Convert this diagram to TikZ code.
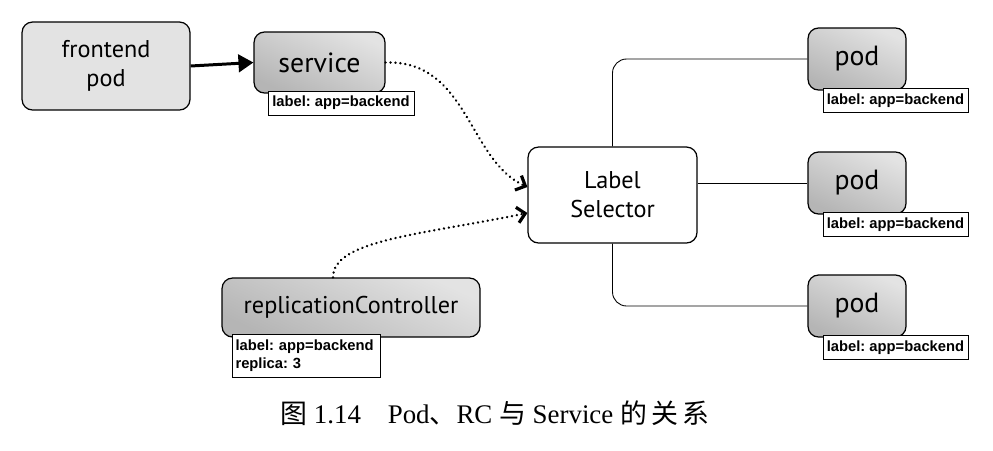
\documentclass[tikz,border=0pt]{standalone}
\usepackage{fontspec}
\setmainfont{Liberation Serif}
\setsansfont{PT Sans}
\newfontfamily\cjk{Noto Sans CJK SC}
\newfontfamily\tagfont{Liberation Sans}
\usetikzlibrary{arrows.meta}
\tikzset{
	box/.style={draw, rounded corners=6pt, line width=0.7pt, inner sep=0pt,
		align=center, font=\sffamily\fontsize{13.8}{16.5}\selectfont},
	lightbox/.style={box, fill=gray!22},
	darkbox/.style={box, top color=gray!22, bottom color=gray!58, shading angle=-25},
	bigtext/.style={font=\sffamily\fontsize{15.8}{17}\selectfont},
	tag/.style={draw, fill=white, line width=0.5pt, inner sep=1.5pt,
		font=\tagfont\bfseries\fontsize{8.4}{10}\selectfont\frenchspacing},
	link/.style={line width=0.5pt, rounded corners=8pt},
	dots/.style={line width=1.5pt, line cap=round, dash pattern=on 0.01pt off 2.8pt,
		-{Straight Barb[length=4.5pt,width=9pt,line width=1.8pt]}}
}
\begin{document}
\begin{tikzpicture}[x=0.02cm,y=-0.02cm]
\useasboundingbox (0,0) rectangle (993,450);

%frontend pod
\node[lightbox, minimum width=3.36cm, minimum height=1.76cm] (front) at (106,66)
	{frontend\\pod};

%service
\node[darkbox, bigtext, minimum width=2.62cm, minimum height=1.22cm] (svc) at (319.5,62.5)
	{service};
\node[tag, minimum width=2.92cm, minimum height=0.48cm] (svclbl) at (341,103)
	{label: app=backend};
\draw[line width=1.7pt, -{Triangle[length=8.5pt,width=10pt]}] (front.east) -- (svc.west);

%label selector
\node[box, fill=white, minimum width=3.38cm, minimum height=1.92cm] (sel) at (612.5,195)
	{Label\\Selector};
\coordinate (in1) at ([yshift=0.16cm]sel.west);
\coordinate (in2) at ([yshift=-0.36cm]sel.west);

%replication controller
\node[darkbox, minimum width=5.16cm, minimum height=1.18cm] (rc) at (351,307.5)
	{replicationController};
\node[tag, text width=2.84cm, minimum height=0.86cm, align=left] (rclbl) at (306.5,355.5)
	{label: app=backend\\replica: 3};
\coordinate (rcout) at ([xshift=-0.36cm]rc.north);

% selector inputs
\draw[dots] (svc.east) .. controls (468,60) and (468,160) .. (in1);
\draw[dots] (rcout) .. controls (333,240) and (420,235) .. (in2);

%pods
\foreach \i/\y in {1/59,2/183,3/306}
{
	\node[darkbox, bigtext, minimum width=1.96cm, minimum height=1.24cm] (pod\i) at (857,\y) {pod};
	\node[tag, minimum width=2.9cm, minimum height=0.48cm] (podlbl\i) at (895.5,\y+41.5)
		{label: app=backend};
}
\draw[link] (sel.north) |- (pod1.west);
\draw[link] (pod2.west -| sel.east) -- (pod2.west);
\draw[link] (sel.south) |- (pod3.west);

%caption
\node[font=\fontsize{15.3}{17}\selectfont] (cap) at (495,413)
	{{\cjk 图}\ 1.14\quad Pod{\cjk 、}RC {\cjk 与} Service {\cjk 的\,关\,系}};

\end{tikzpicture}
\end{document}
